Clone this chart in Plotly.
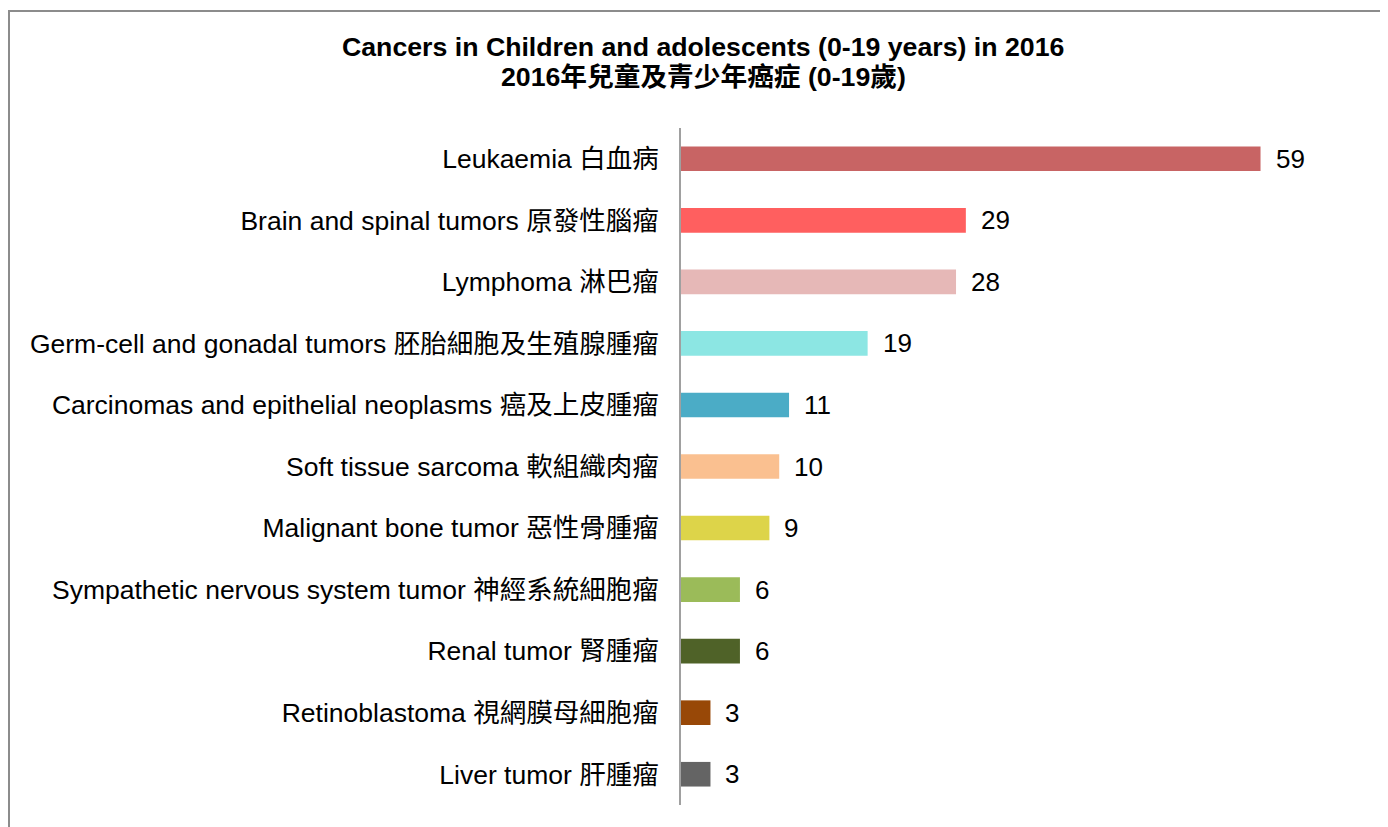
import plotly.graph_objects as go

categories = [
    "Leukaemia 白血病",
    "Brain and spinal tumors 原發性腦瘤",
    "Lymphoma 淋巴瘤",
    "Germ-cell and gonadal tumors 胚胎細胞及生殖腺腫瘤",
    "Carcinomas and epithelial neoplasms 癌及上皮腫瘤",
    "Soft tissue sarcoma 軟組織肉瘤",
    "Malignant bone tumor 惡性骨腫瘤",
    "Sympathetic nervous system tumor 神經系統細胞瘤",
    "Renal tumor 腎腫瘤",
    "Retinoblastoma 視網膜母細胞瘤",
    "Liver tumor 肝腫瘤",
]
values = [59, 29, 28, 19, 11, 10, 9, 6, 6, 3, 3]
colors = ["#C86464", "#FF5F5F", "#E6B8B7", "#8CE6E3", "#4BACC6", "#FAC090",
          "#DDD449", "#9BBB59", "#4F6228", "#984807", "#646464"]

title_line1 = "Cancers in Children and adolescents (0-19 years) in 2016"
title_line2 = "2016年兒童及青少年癌症 (0-19歲)"

FONT = "Liberation Sans, Arial, Noto Sans CJK TC, sans-serif"

W, H = 1380, 819
L, R, T, B = 673, 98, 120, 22
PW, PH = W - L - R, H - T - B

fig = go.Figure()
fig.add_trace(go.Bar(
    x=values, y=categories, orientation="h",
    marker=dict(color=colors, line=dict(width=0)),
    width=0.4, hoverinfo="x+y",
))

for c, v in zip(categories, values):
    fig.add_annotation(x=v, y=c, text=str(v), showarrow=False,
                       xanchor="left", xshift=13,
                       font=dict(family=FONT, size=26, color="#000000"))

for txt, ypx in [(title_line1, 39), (title_line2, 69)]:
    fig.add_annotation(xref="paper", yref="paper",
                       x=(695 - L) / PW, y=1 + (T - ypx) / PH,
                       text="<b>" + txt + "</b>", showarrow=False,
                       xanchor="center", yanchor="middle",
                       font=dict(family=FONT, size=26.7, color="#000000"))

fig.update_layout(
    width=W, height=H,
    margin=dict(l=L, r=R, t=T, b=B),
    paper_bgcolor="white", plot_bgcolor="white",
    showlegend=False,
    font=dict(family=FONT, color="#000000"),
    xaxis=dict(range=[0, 62], showgrid=False, zeroline=False, showticklabels=False,
               showline=False, ticks=""),
    yaxis=dict(categoryorder="array", categoryarray=categories, autorange="reversed",
               showline=True, linecolor="#A0A0A0", linewidth=2, showgrid=False,
               ticks="", ticklabelstandoff=15,
               tickfont=dict(family=FONT, size=26.5, color="#000000")),
    shapes=[dict(type="rect", xref="paper", yref="paper",
                 x0=(1 - L) / PW, x1=(1377 - L) / PW,
                 y0=-(B + 10) / PH, y1=1 + (T - 3) / PH,
                 line=dict(color="#8C8C8C", width=2), fillcolor="rgba(0,0,0,0)",
                 layer="below")],
)

fig.write_html("out.html")
